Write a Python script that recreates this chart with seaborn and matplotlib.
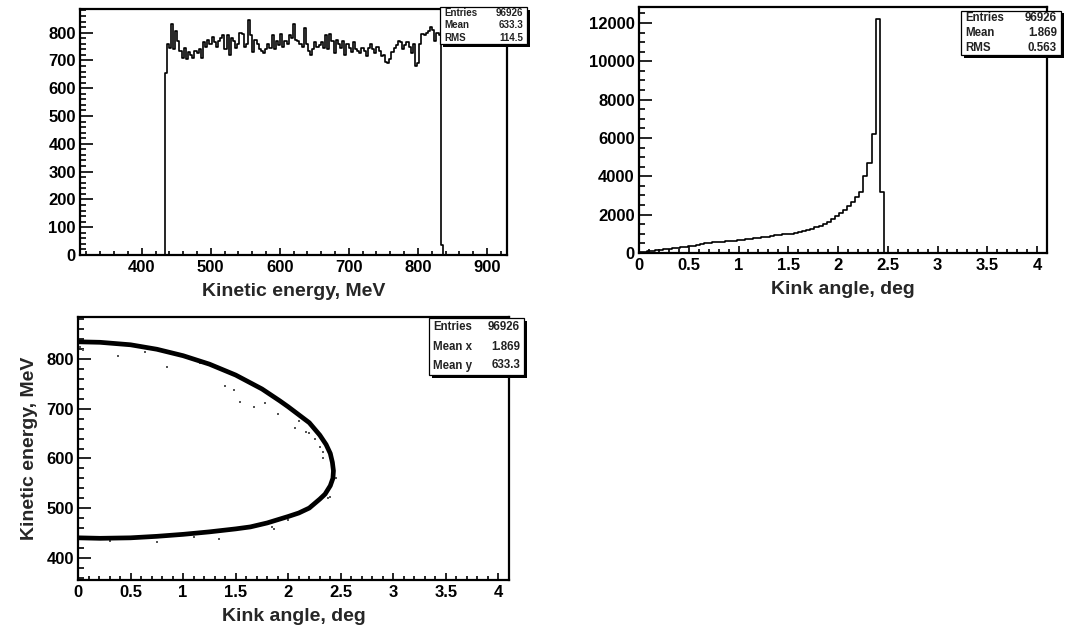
import numpy as np
import pandas as pd
import matplotlib
matplotlib.use("Agg")
import matplotlib.pyplot as plt
from matplotlib.patches import Rectangle
from matplotlib.ticker import MultipleLocator, AutoMinorLocator, FuncFormatter
import seaborn as sns

# ---------------- data ----------------
# Kinetic energy histogram (MeV): first bin edge, bin width, counts (empty bins at both ends)
energy_bin_start = 429.9
energy_bin_width = 3.1
energy_counts = [
    0,
    655, 760, 745, 830, 740, 805, 770, 735, 710, 745,
    705, 730, 720, 710, 735, 725, 740, 710, 765, 750,
    775, 760, 785, 765, 750, 770, 780, 790, 740, 790,
    720, 780, 770, 745, 760, 800, 795, 750, 760, 845,
    790, 730, 775, 760, 740, 735, 725, 740, 760, 745,
    790, 740, 770, 755, 795, 750, 770, 760, 790, 780,
    830, 775, 770, 760, 750, 815, 760, 735, 720, 740,
    765, 750, 755, 765, 745, 790, 740, 795, 770, 725,
    775, 760, 745, 770, 720, 760, 745, 730, 765, 740,
    735, 725, 745, 735, 715, 745, 760, 740, 725, 750,
    735, 715, 720, 695, 690, 705, 730, 745, 755, 770,
    765, 740, 755, 765, 750, 725, 760, 680, 690, 760,
    795, 790, 800, 805, 820, 810, 770, 800, 790, 35,
    0,
]

# Kink angle histogram (deg): first bin edge, bin width, counts
kink_bin_start = 0.0
kink_bin_width = 0.041
kink_counts = [
    50, 70, 90, 120, 150, 180, 200, 225, 250, 270,
    290, 320, 340, 370, 400, 480, 500, 530, 550, 570,
    590, 610, 630, 650, 670, 690, 710, 740, 770, 800,
    830, 860, 890, 920, 950, 980, 1000, 1000, 1040, 1090,
    1140, 1200, 1270, 1340, 1420, 1510, 1620, 1780, 1950, 2100,
    2250, 2450, 2650, 2900, 3200, 4000, 4700, 6200, 12200, 3200,
    0,
]

# 2D: kinetic energy vs kink angle, main band
curve_angle = [0.00, 0.21, 0.50, 0.75, 1.00, 1.25, 1.50, 1.75, 1.92, 2.00,
               2.10, 2.20, 2.30, 2.36, 2.40, 2.42, 2.43, 2.425, 2.40, 2.35,
               2.30, 2.20, 2.10, 2.00, 1.80, 1.64, 1.50, 1.25, 1.00, 0.75,
               0.50, 0.21, 0.00]
curve_energy = [835, 834, 829, 820, 807, 790, 768, 740, 716, 704,
                688, 672, 647, 628, 610, 592, 575, 560, 545, 528,
                518, 500, 490, 483, 470, 462, 458, 452, 447, 443,
                440, 439, 440]
# stray entries off the band
stray_angle = [0.02, 0.05, 0.38, 0.64, 0.85, 1.16, 1.48, 1.54, 1.67, 1.78,
               2.06, 2.17, 2.30, 2.40, 0.75, 1.34, 1.67, 1.86, 1.95, 2.22,
               1.40, 1.62, 2.33, 1.10, 0.30, 1.90, 2.25, 2.20, 2.33, 2.45,
               2.38, 2.00, 1.85, 2.10]
stray_energy = [825, 818, 807, 815, 785, 792, 738, 714, 704, 711,
                661, 654, 624, 523, 432, 437, 462, 457, 478, 506,
                745, 755, 600, 441, 433, 690, 640, 652, 612, 560,
                520, 475, 462, 675]

stats_energy = [("Entries", "96926"), ("Mean", "633.3"), ("RMS", "114.5")]
stats_kink = [("Entries", "96926"), ("Mean", "1.869"), ("RMS", "0.563")]
stats_2d = [("Entries", "96926"), ("Mean x", "1.869"), ("Mean y", "633.3")]

# ---------------- style ----------------
sns.set_style("ticks")
plt.rcParams["font.family"] = ["Liberation Sans", "DejaVu Sans"]
plt.rcParams["axes.linewidth"] = 1.6

W, H = 1072, 631
fig = plt.figure(figsize=(W / 100, H / 100), dpi=100)


def px_axes(x0, y0, x1, y1):
    return fig.add_axes([x0 / W, 1 - y1 / H, (x1 - x0) / W, (y1 - y0) / H])


def fmt(v, _):
    return "%g" % round(v, 6)


def style_axes(ax, xmaj, xmin_div, ymaj, ymin_div):
    for s in ax.spines.values():
        s.set_visible(True)
        s.set_color("black")
        s.set_linewidth(1.6)
    ax.xaxis.set_major_locator(MultipleLocator(xmaj))
    ax.xaxis.set_minor_locator(AutoMinorLocator(xmin_div))
    ax.yaxis.set_major_locator(MultipleLocator(ymaj))
    ax.yaxis.set_minor_locator(AutoMinorLocator(ymin_div))
    ax.xaxis.set_major_formatter(FuncFormatter(fmt))
    ax.yaxis.set_major_formatter(FuncFormatter(fmt))
    ax.tick_params(axis="both", which="both", direction="in", top=False, right=False,
                   width=1.2, colors="black")
    ax.tick_params(axis="x", which="major", length=5.3, pad=3.5, labelsize=12)
    ax.tick_params(axis="x", which="minor", length=2.7)
    ax.tick_params(axis="y", which="major", length=9.2, pad=3, labelsize=12)
    ax.tick_params(axis="y", which="minor", length=4.6)
    for lab in ax.get_xticklabels() + ax.get_yticklabels():
        lab.set_fontweight("bold")


def stats_box(x0, y0, x1, y1, rows, fs):
    sh = 2.5
    fig.add_artist(Rectangle(((x0 + sh) / W, 1 - (y1 + sh) / H), (x1 - x0) / W, (y1 - y0) / H,
                             transform=fig.transFigure, facecolor="black", edgecolor="none", zorder=5))
    fig.add_artist(Rectangle((x0 / W, 1 - y1 / H), (x1 - x0) / W, (y1 - y0) / H,
                             transform=fig.transFigure, facecolor="white", edgecolor="black",
                             linewidth=0.9, zorder=6))
    n = len(rows)
    rh = (y1 - y0) / n
    for i, (k, v) in enumerate(rows):
        yc = y0 + rh * (i + 0.5)
        fig.text((x0 + 4) / W, 1 - yc / H, k, ha="left", va="center", fontsize=fs,
                 fontweight="bold", color="#222222", zorder=7)
        fig.text((x1 - 4) / W, 1 - yc / H, v, ha="right", va="center", fontsize=fs,
                 fontweight="bold", color="#222222", zorder=7)


LABEL_FS = 14

# ---------- top-left: kinetic energy ----------
e_end = energy_bin_start + energy_bin_width * len(energy_counts)
e_centers = energy_bin_start + energy_bin_width * (np.arange(len(energy_counts)) + 0.5)
df_e = pd.DataFrame({"energy": e_centers, "count": energy_counts})
ax1 = px_axes(80, 9, 507, 255)
sns.histplot(data=df_e, x="energy", weights="count", binwidth=energy_bin_width,
             binrange=(energy_bin_start, e_end), element="step",
             fill=False, color="black", linewidth=1.2, ax=ax1)
ax1.set_xlim(310.6, 929)
ax1.set_ylim(0, 885)
style_axes(ax1, 100, 5, 100, 5)
ax1.set_xlabel("Kinetic energy, MeV", fontsize=LABEL_FS, fontweight="bold", labelpad=6)
ax1.set_ylabel("")

# ---------- top-right: kink angle ----------
k_end = kink_bin_start + kink_bin_width * len(kink_counts)
k_centers = kink_bin_start + kink_bin_width * (np.arange(len(kink_counts)) + 0.5)
df_k = pd.DataFrame({"angle": k_centers, "count": kink_counts})
ax2 = px_axes(639, 7, 1047, 253)
sns.histplot(data=df_k, x="angle", weights="count", binwidth=kink_bin_width,
             binrange=(kink_bin_start, k_end), element="step",
             fill=False, color="black", linewidth=1.2, ax=ax2)
ax2.set_xlim(0, 4.1)
ax2.set_ylim(0, 12830)
style_axes(ax2, 0.5, 5, 2000, 4)
ax2.set_xlabel("Kink angle, deg", fontsize=LABEL_FS, fontweight="bold", labelpad=6)
ax2.set_ylabel("")

# ---------- bottom-left: 2D ----------
ax3 = px_axes(78, 317, 509, 580)
df_c = pd.DataFrame({"angle": curve_angle, "energy": curve_energy})
sns.lineplot(data=df_c, x="angle", y="energy", sort=False, estimator=None,
             color="black", linewidth=3.4, ax=ax3)
ax3.lines[-1].set_solid_joinstyle("round")
df_s = pd.DataFrame({"angle": stray_angle, "energy": stray_energy})
sns.scatterplot(data=df_s, x="angle", y="energy", color="#555555", s=4, marker="s",
                linewidth=0, ax=ax3)
ax3.set_xlim(0, 4.1)
ax3.set_ylim(355, 885)
style_axes(ax3, 0.5, 5, 100, 5)
ax3.set_xlabel("Kink angle, deg", fontsize=LABEL_FS, fontweight="bold", labelpad=6)
ax3.set_ylabel("Kinetic energy, MeV", fontsize=LABEL_FS, fontweight="bold", labelpad=6)

# ---------- stats boxes ----------
stats_box(440, 7, 527, 44, stats_energy, 7)
stats_box(961, 11, 1061, 55, stats_kink, 8.3)
stats_box(429, 318, 524, 375, stats_2d, 8.3)

fig.savefig("out.png", dpi=100)
